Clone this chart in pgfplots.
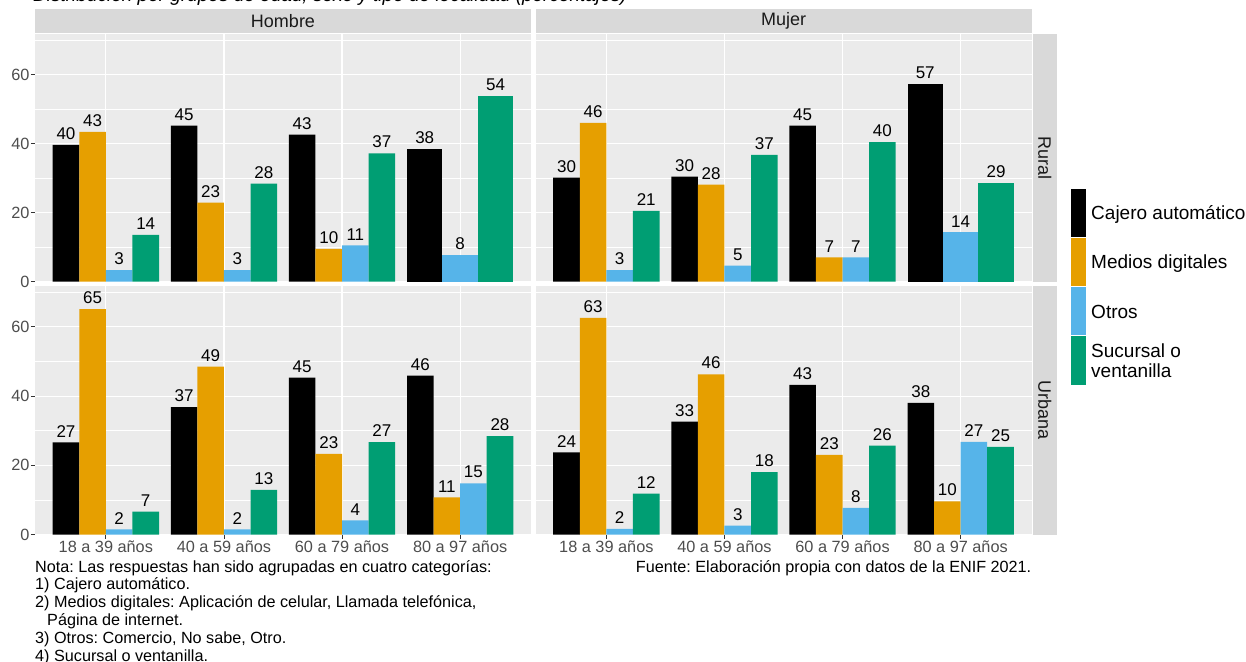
\documentclass[border=0pt]{standalone}
\usepackage{pgfplots}
\pgfplotsset{compat=1.18}
\usepackage{fontspec}
\setmainfont{Liberation Sans}
\frenchspacing
\definecolor{gray92}{HTML}{EBEBEB}
\definecolor{gray85}{HTML}{D9D9D9}
\definecolor{gray30}{HTML}{4D4D4D}
\definecolor{gray20}{HTML}{333333}
\definecolor{gray10}{HTML}{1A1A1A}
\definecolor{cajero}{HTML}{000000}
\definecolor{medios}{HTML}{E69F00}
\definecolor{otros}{HTML}{56B4E9}
\definecolor{sucursal}{HTML}{009E73}
\newcommand\tickfont{\fontsize{16.3}{18}\selectfont}
\newcommand\barfont{\fontsize{17}{19}\selectfont}
\newcommand\stripfont{\fontsize{18}{20}\selectfont}
\newcommand\legfont{\fontsize{19}{20}\selectfont}
\newcommand\notefont{\fontsize{16.2}{17.8}\selectfont}
\pgfplotsset{
 panel/.style={
   scale only axis, width=496pt, height=247.5pt,
   anchor=north west,
   xmin=0.4, xmax=4.6, ymin=0, ymax=71.8,
   axis line style={draw=none},
   axis background/.style={fill=gray92},
   xtick={1,2,3,4}, ytick={0,20,40,60}, minor ytick={10,30,50,70},
   xmajorgrids, ymajorgrids, yminorgrids,
   major grid style={white, line width=1.1pt},
   minor grid style={white, line width=0.55pt},
   tick align=outside, xtick pos=bottom, ytick pos=left,
   major tick length=4pt, minor tick length=0pt,
   tick style={gray20, line width=0.8pt},
   /pgf/number format/assume math mode=true,
   yticklabel style={font=\tickfont, text=gray30, xshift=2pt},
   xticklabel style={font=\tickfont, text=gray30, yshift=1.5pt},
   xticklabels={18 a 39 años, 40 a 59 años, 60 a 79 años, 80 a 97 años},
   point meta=explicit symbolic,
   nodes near coords,
   every node near coord/.append style={font=\barfont, text=black, anchor=south, inner sep=0pt, yshift=5pt},
   clip=false,
 },
 noy/.style={yticklabels={}, ytick style={draw=none}},
 nox/.style={xticklabels={}, xtick style={draw=none}},
 s1/.style={ybar, fill=cajero, draw=none, bar width=0.225, bar shift=0pt},
 s2/.style={ybar, fill=medios, draw=none, bar width=0.225, bar shift=0pt},
 s3/.style={ybar, fill=otros, draw=none, bar width=0.225, bar shift=0pt},
 s4/.style={ybar, fill=sucursal, draw=none, bar width=0.225, bar shift=0pt},
 t1/.style={ybar, fill=cajero, draw=none, bar width=0.3, bar shift=0pt},
 t3/.style={ybar, fill=otros, draw=none, bar width=0.3, bar shift=0pt},
 t4/.style={ybar, fill=sucursal, draw=none, bar width=0.3, bar shift=0pt},
}
\begin{document}
\begin{tikzpicture}
% title (cut at top)
\node[anchor=base west, inner sep=0pt, font=\fontsize{19}{20}\selectfont\itshape] at (33pt,-1.5pt) {Distribución por grupos de edad, sexo y tipo de localidad (porcentajes)};
% column strips
\fill[gray85] (35pt,-9pt) rectangle (531pt,-33.5pt);
\fill[gray85] (535.5pt,-9pt) rectangle (1031.5pt,-33.5pt);
\node[font=\stripfont, text=gray10] at (283pt,-21.3pt) {Hombre};
\node[font=\stripfont, text=gray10] at (783.5pt,-21.3pt) {Mujer};
% row strips
\fill[gray85] (1032.5pt,-34pt) rectangle (1057pt,-281.5pt);
\fill[gray85] (1032.5pt,-286pt) rectangle (1057pt,-534.5pt);
\node[font=\stripfont, text=gray10, rotate=-90] at (1044.7pt,-157.7pt) {Rural};
\node[font=\stripfont, text=gray10, rotate=-90] at (1044.7pt,-410.2pt) {Urbana};

% Hombre Rural
\begin{axis}[panel, nox, at={(35pt,-34pt)}]
\addplot[s1] table[x expr=\thisrow{x}-0.3375,y=y,meta=l]{
x y l
1 39.6 40
2 45.2 45
3 42.6 43
};
\addplot[t1] table[x expr=\thisrow{x}-0.3,y=y,meta=l]{
x y l
4 38.5 38
};
\addplot[s2] table[x expr=\thisrow{x}-0.1125,y=y,meta=l]{
x y l
1 43.4 43
2 22.9 23
3 9.5 10
};
\addplot[s3] table[x expr=\thisrow{x}+0.1125,y=y,meta=l]{
x y l
1 3.3 3
2 3.3 3
3 10.5 11
};
\addplot[t3] table[x expr=\thisrow{x},y=y,meta=l]{
x y l
4 7.6 8
};
\addplot[s4] table[x expr=\thisrow{x}+0.3375,y=y,meta=l]{
x y l
1 13.5 14
2 28.4 28
3 37.2 37
};
\addplot[t4] table[x expr=\thisrow{x}+0.3,y=y,meta=l]{
x y l
4 53.8 54
};
\end{axis}

% Mujer Rural
\begin{axis}[panel, nox, noy, at={(535.5pt,-34pt)}]
\addplot[s1] table[x expr=\thisrow{x}-0.3375,y=y,meta=l]{
x y l
1 30.1 30
2 30.4 30
3 45.2 45
};
\addplot[t1] table[x expr=\thisrow{x}-0.3,y=y,meta=l]{
x y l
4 57.2 57
};
\addplot[s2] table[x expr=\thisrow{x}-0.1125,y=y,meta=l]{
x y l
1 46.0 46
2 28.1 28
3 7.0 7
};
\addplot[s3] table[x expr=\thisrow{x}+0.1125,y=y,meta=l]{
x y l
1 3.3 3
2 4.6 5
3 7.0 7
};
\addplot[t3] table[x expr=\thisrow{x},y=y,meta=l]{
x y l
4 14.3 14
};
\addplot[s4] table[x expr=\thisrow{x}+0.3375,y=y,meta=l]{
x y l
1 20.5 21
2 36.7 37
3 40.4 40
};
\addplot[t4] table[x expr=\thisrow{x}+0.3,y=y,meta=l]{
x y l
4 28.6 29
};
\end{axis}

% Hombre Urbana
\begin{axis}[panel, height=248.5pt, at={(35pt,-286pt)}]
\addplot[s1] table[x expr=\thisrow{x}-0.3375,y=y,meta=l]{
x y l
1 26.6 27
2 36.8 37
3 45.3 45
4 45.9 46
};
\addplot[s2] table[x expr=\thisrow{x}-0.1125,y=y,meta=l]{
x y l
1 65.1 65
2 48.5 49
3 23.3 23
4 10.7 11
};
\addplot[s3] table[x expr=\thisrow{x}+0.1125,y=y,meta=l]{
x y l
1 1.5 2
2 1.5 2
3 4.1 4
4 14.8 15
};
\addplot[s4] table[x expr=\thisrow{x}+0.3375,y=y,meta=l]{
x y l
1 6.6 7
2 12.9 13
3 26.7 27
4 28.4 28
};
\end{axis}

% Mujer Urbana
\begin{axis}[panel, noy, height=248.5pt, at={(535.5pt,-286pt)}]
\addplot[s1] table[x expr=\thisrow{x}-0.3375,y=y,meta=l]{
x y l
1 23.7 24
2 32.6 33
3 43.2 43
4 38.0 38
};
\addplot[s2] table[x expr=\thisrow{x}-0.1125,y=y,meta=l]{
x y l
1 62.6 63
2 46.3 46
3 23.0 23
4 9.6 10
};
\addplot[s3] table[x expr=\thisrow{x}+0.1125,y=y,meta=l]{
x y l
1 1.6 2
2 2.6 3
3 7.7 8
4 26.8 27
};
\addplot[s4] table[x expr=\thisrow{x}+0.3375,y=y,meta=l]{
x y l
1 11.8 12
2 18.0 18
3 25.7 26
4 25.3 25
};
\end{axis}

% legend
\fill[cajero] (1071pt,-188.5pt) rectangle (1086pt,-236.5pt);
\fill[medios] (1071pt,-237.5pt) rectangle (1086pt,-285.5pt);
\fill[otros] (1071pt,-286.5pt) rectangle (1086pt,-335pt);
\fill[sucursal] (1071pt,-336pt) rectangle (1086pt,-384.5pt);
\begin{scope}[every node/.style={anchor=base west, inner sep=0pt, font=\legfont}]
\node at (1091pt,-219.8pt) {Cajero automático};
\node at (1091pt,-268.8pt) {Medios digitales};
\node at (1091pt,-318.3pt) {Otros};
\node at (1091pt,-357.8pt) {Sucursal o};
\node at (1091pt,-377.8pt) {ventanilla};
\end{scope}

% notes
\begin{scope}[every node/.style={anchor=base west, inner sep=0pt, font=\notefont}]
\node at (35pt,-572pt) {Nota: Las respuestas han sido agrupadas en cuatro categorías:};
\node at (35pt,-589.8pt) {1) Cajero automático.};
\node at (35pt,-607.6pt) {2) Medios digitales: Aplicación de celular, Llamada telefónica,};
\node at (47pt,-625.4pt) {Página de internet.};
\node at (35pt,-643.2pt) {3) Otros: Comercio, No sabe, Otro.};
\node at (35pt,-661pt) {4) Sucursal o ventanilla.};
\end{scope}
\node[anchor=base east, inner sep=0pt, font=\notefont] at (1031.5pt,-572pt) {Fuente: Elaboración propia con datos de la ENIF 2021.};

\pgfresetboundingbox
\useasboundingbox (0pt,0pt) rectangle (1246pt,-661pt);
\end{tikzpicture}
\end{document}
